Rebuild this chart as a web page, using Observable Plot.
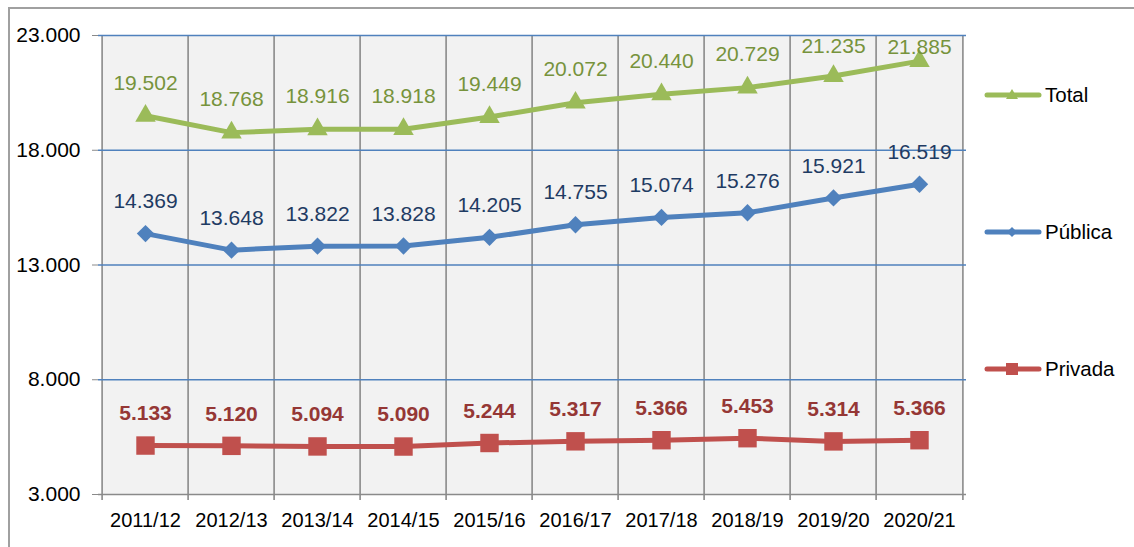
<!DOCTYPE html>
<html>
<head>
<meta charset="utf-8">
<script src="https://cdn.jsdelivr.net/npm/d3@7"></script>
<script src="https://cdn.jsdelivr.net/npm/@observablehq/plot@0.6"></script>
<style>
  html, body { margin: 0; padding: 0; background: #fff; }
  #wrap { position: relative; width: 1134px; height: 547px; overflow: hidden; font-family: "Liberation Sans", Arial, sans-serif; }
  #frame { position: absolute; left: 8px; top: 7px; width: 1200px; height: 600px; border-left: 2px solid #a0a0a0; border-top: 2px solid #a0a0a0; box-sizing: border-box; }
  #chart { position: absolute; left: 0; top: 0; }
  .leg { position: absolute; left: 984px; height: 24px; display: flex; align-items: center; font-size: 20.5px; color: #000; }
  .leg svg { margin-right: 3px; }
</style>
</head>
<body>
<div id="wrap">
  <div id="frame"></div>
  <div id="chart"></div>
</div>
<script>
const years = ["2011/12","2012/13","2013/14","2014/15","2015/16","2016/17","2017/18","2018/19","2019/20","2020/21"];
const total   = [19502,18768,18916,18918,19449,20072,20440,20729,21235,21885];
const publica = [14369,13648,13822,13828,14205,14755,15074,15276,15921,16519];
const privada = [5133,5120,5094,5090,5244,5317,5366,5453,5314,5366];
const yTicks = [3000, 8000, 13000, 18000, 23000];
const seriesNames = ["Total", "Pública", "Privada"];

const lineColors  = {"Total": "#9BBB59", "Pública": "#4F81BD", "Privada": "#C0504D"};
const labelColors = {"Total": "#77933C", "Pública": "#1F3B63", "Privada": "#953735"};
const symbols = {"Total": "triangle", "Pública": "diamond2", "Privada": "square"};
const symR = {"Total": 7.6, "Pública": 7.8, "Privada": 10.4};

const fmt = v => d3.format(",")(v).replace(/,/g, ".");

const rows = [];
[[seriesNames[0], total], [seriesNames[1], publica], [seriesNames[2], privada]].forEach(([name, vals]) => {
  vals.forEach((v, i) => rows.push({year: years[i], serie: name, value: v, idx: i}));
});

const W = 1134, H = 547;
const mL = 98, mR = 168, mT = 35, mB = 53;
const bw = (W - mL - mR) / years.length;
const FS = 21;

const marks = [
  Plot.cell(years, {x: d => d, fill: "#F2F2F2"}),
  Plot.ruleX(years, {x: d => d, dx: -bw / 2, y1: yTicks[yTicks.length - 1], y2: yTicks[0], insetBottom: -6, stroke: "#8a8a8a", strokeWidth: 1.6}),
  Plot.ruleX([years[years.length - 1]], {x: d => d, dx: bw / 2, y1: yTicks[yTicks.length - 1], y2: yTicks[0], insetBottom: -6, stroke: "#8a8a8a", strokeWidth: 1.6}),
  Plot.ruleY(yTicks.slice(1), {y: d => d, stroke: "#4F81BD", strokeWidth: 1.5}),
  Plot.ruleY([yTicks[0]], {y: d => d, stroke: "#8a8a8a", strokeWidth: 1.6}),
  Plot.axisY({ticks: yTicks, tickFormat: fmt, tickSize: 6, tickPadding: 12, stroke: "#8a8a8a", fill: "#000", fontSize: FS}),
  Plot.axisX({tickSize: 0, tickPadding: 18, fill: "#000", fontSize: 20}),
];

for (const s of seriesNames) {
  const data = rows.filter(r => r.serie === s);
  marks.push(Plot.line(data, {x: "year", y: "value", stroke: lineColors[s], strokeWidth: 5}));
  marks.push(Plot.dot(data, {x: "year", y: "value", symbol: symbols[s], r: symR[s], fill: lineColors[s], stroke: null}));
  const bold = s === "Privada" ? "bold" : "normal";
  if (s === "Total") {
    marks.push(Plot.text(data.filter(d => d.idx < 8), {x: "year", y: "value", text: d => fmt(d.value), dy: -33, fill: labelColors[s], fontSize: FS, fontWeight: bold}));
    marks.push(Plot.text(data.filter(d => d.idx === 8), {x: "year", y: "value", text: d => fmt(d.value), dy: -30, fill: labelColors[s], fontSize: FS, fontWeight: bold}));
    marks.push(Plot.text(data.filter(d => d.idx === 9), {x: "year", y: "value", text: d => fmt(d.value), dy: -14, fill: labelColors[s], fontSize: FS, fontWeight: bold}));
  } else {
    marks.push(Plot.text(data, {x: "year", y: "value", text: d => fmt(d.value), dy: -32, fill: labelColors[s], fontSize: FS, fontWeight: bold}));
  }
}

const chart = Plot.plot({
  width: W, height: H,
  marginLeft: mL, marginRight: mR, marginTop: mT, marginBottom: mB,
  style: {fontFamily: "'Liberation Sans', Arial, sans-serif", fontSize: "20px", color: "#000", background: "transparent", overflow: "visible"},
  x: {type: "band", domain: years, padding: 0, label: null},
  y: {domain: [yTicks[0], yTicks[yTicks.length - 1]], label: null},
  marks
});
document.getElementById("chart").appendChild(chart);

// Legend (HTML, right side)
const legTops = {"Total": 83, "Pública": 220, "Privada": 357};
const wrap = document.getElementById("wrap");
for (const s of seriesNames) {
  const div = document.createElement("div");
  div.className = "leg";
  div.style.top = legTops[s] + "px";
  let marker = "";
  const c = lineColors[s];
  if (s === "Total") marker = `<path d="M28,6 L34,16 L22,16 Z" fill="${c}"/>`;
  else if (s === "Pública") marker = `<path d="M28,7 L33,12 L28,17 L23,12 Z" fill="${c}"/>`;
  else marker = `<rect x="22" y="6" width="12" height="12" fill="${c}"/>`;
  div.innerHTML = `<svg width="58" height="24"><line x1="3" y1="12" x2="55" y2="12" stroke="${c}" stroke-width="5" stroke-linecap="round"/>${marker}</svg><span>${s}</span>`;
  wrap.appendChild(div);
}
</script>
</body>
</html>
